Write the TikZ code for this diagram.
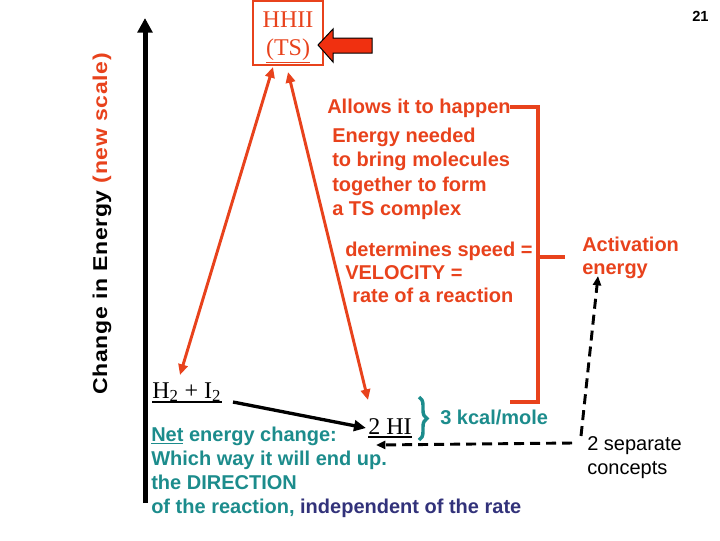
\documentclass[tikz,border=0pt]{standalone}
\usepackage{fontspec}
\setmainfont{Liberation Serif}
\setsansfont{Liberation Sans}
\usetikzlibrary{arrows.meta,decorations.pathreplacing}
\definecolor{ored}{RGB}{232,66,28}
\definecolor{bred}{RGB}{240,48,16}
\definecolor{tealc}{RGB}{28,140,140}
\definecolor{dblue}{RGB}{50,50,122}
\begin{document}
\begin{tikzpicture}[x=0.75pt,y=-0.75pt,
  sb/.style={font=\sffamily\bfseries\fontsize{15}{18}\selectfont, inner sep=0pt, anchor=base west},
  sr/.style={font=\sffamily\fontsize{15}{18}\selectfont, inner sep=0pt, anchor=base west},
  tm/.style={font=\rmfamily\fontsize{18}{21}\selectfont, inner sep=0pt},
  redline/.style={ored, line width=2.2pt, {Triangle[length=8pt,width=7pt]}-{Triangle[length=8pt,width=7pt]}},
  bracket/.style={ored, line width=2.6pt},
  dashline/.style={black, line width=2.2pt, dash pattern=on 7.5pt off 4.5pt, -{Triangle[length=7pt,width=6pt]}}
]
\useasboundingbox (0,0) rectangle (720,540);

% axis
\coordinate (axb) at (145,503);
\coordinate (axt) at (145,18);
\draw[line width=3.75pt, -{Triangle[length=11pt,width=11pt]}] (axb) -- (axt);
\node (ylab) [sb, rotate=90, font=\sffamily\bfseries\fontsize{15}{18}\selectfont\addfontfeature{LetterSpace=3}] at (107,395)
  {\scalebox{1.15}[1]{Change in Energy \textcolor{ored}{(new scale)}}};

% page number
\node (num) [sb, font=\sffamily\bfseries\fontsize{11}{13}\selectfont] at (692,21) {21};

% transition state box
\node (tsbox) [draw=ored, line width=0.8pt, minimum width=52.5pt, minimum height=48pt, inner sep=0pt] at (288,33) {};
\node (tsa) [tm, ored, anchor=base] at (288,27) {HHII};
\node (tsb) [tm, ored, anchor=base] at (288,55) {\underline{(TS)}};

% big red block arrow
\draw[fill=bred, draw=black, line width=0.75pt] (318,45) -- (333,29) -- (333,38) -- (372,38) -- (372,53) -- (333,53) -- (333,62) -- cycle;

% species
\node (h2) [tm, anchor=base west] at (152,398) {H\textsubscript{2} + I\textsubscript{2}};
\draw[line width=1.1pt] ([yshift=-3pt]h2.base west) -- ([yshift=-3pt]h2.base east);
\node (hi) [tm, anchor=base west] at (368,434) {2 HI};
\draw[line width=1.1pt] ([yshift=-2.4pt]hi.base west) -- ([yshift=-2.4pt]hi.base east);

% red connectors
\coordinate (tsl) at (273,67);
\coordinate (tsr) at (288,72);
\coordinate (h2t) at (180,375);
\coordinate (hit) at (368,400);
\draw[redline] (tsl) -- (h2t);
\draw[redline] (tsr) -- (hit);

% reaction arrow
\coordinate (rs) at (233,402);
\coordinate (re) at (366,428);
\draw[line width=2.5pt, -{Triangle[length=9pt,width=8pt]}] (rs) -- (re);

% orange texts
\node (allows) [sb, ored] at (327,113) {Allows it to happen};
\node (en1) [sb, ored] at (332,142) {Energy needed};
\node (en2) [sb, ored] at (332,166.5) {to bring molecules};
\node (en3) [sb, ored] at (332,191) {together to form};
\node (en4) [sb, ored] at (332,215.5) {a TS complex};
\node (det1) [sb, ored] at (345,256) {determines speed =};
\node (det2) [sb, ored] at (345,279) {VELOCITY =};
\node (det3) [sb, ored] at (352,302) {rate of a reaction};
\node (act1) [sb, ored] at (582,251) {Activation};
\node (act2) [sb, ored] at (582,274) {energy};

% bracket
\coordinate (bt0) at (510,107);
\coordinate (bt1) at (538,107);
\coordinate (bb1) at (538,402);
\coordinate (bb0) at (510,402);
\coordinate (bm0) at (538,257);
\coordinate (bm1) at (565,257);
\draw[bracket] (bt0) -- (bt1) -- (bb1) -- (bb0);
\draw[bracket] (bm0) -- (bm1);

% teal brace and text
\coordinate (brt) at (419,397);
\coordinate (brb) at (419,440);
\draw[tealc, line width=2.6pt, decorate, decoration={brace, amplitude=6pt}] (brt) -- (brb);
\node (kcal) [sb, tealc] at (440,424) {3 kcal/mole};

\node (net1) [sb, tealc] at (151,441) {\underline{Net} energy change:};
\node (net2) [sb, tealc] at (151,465) {Which way it will end up.};
\node (net3) [sb, tealc] at (151,489) {the DIRECTION};
\node (net4) [sb, tealc] at (151,513) {of the reaction, \textcolor{dblue}{independent of the rate}};

% separate concepts
\node (sep1) [sr] at (587,450) {2 separate};
\node (sep2) [sr] at (587,474) {concepts};
\coordinate (dh0) at (572,443);
\coordinate (dh1) at (376,445);
\coordinate (dv0) at (581,436);
\coordinate (dv1) at (598,276);
\draw[dashline] (dh0) -- (dh1);
\draw[dashline] (dv0) -- (dv1);
\end{tikzpicture}
\end{document}
